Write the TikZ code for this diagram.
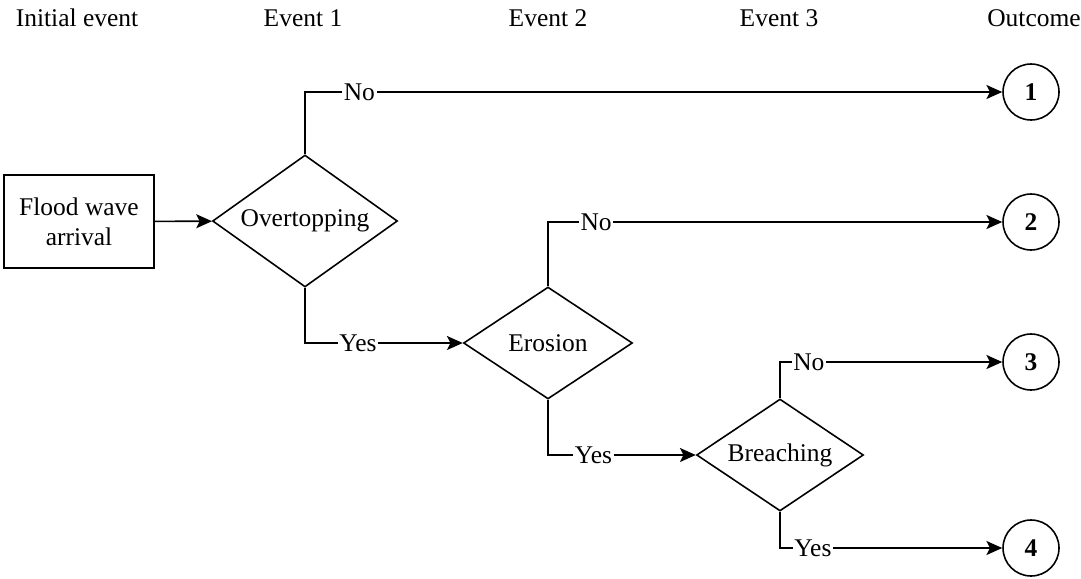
\documentclass[tikz,border=0pt]{standalone}
\usepackage{fontspec}
\setmainfont{Liberation Serif}
\usepackage{tikz}
\usetikzlibrary{shapes.geometric,arrows.meta}

\begin{document}
\begin{tikzpicture}[x=0.02cm,y=-0.02cm,
  font=\fontsize{14.5}{17}\selectfont,
  line width=0.9pt,
  every path/.style={-{Stealth[length=9pt,width=8pt,inset=2pt]}},
  box/.style={draw,minimum width=3cm,minimum height=1.86cm,align=center,inner sep=2pt},
  event/.style={draw,diamond,aspect=1.5,inner sep=0pt},
  outcome/.style={draw,circle,minimum size=1.12cm,inner sep=0pt,font=\fontsize{14.5}{17}\selectfont\bfseries},
  lab/.style={fill=white,inner sep=1pt}]

\useasboundingbox (0,0) rectangle (1081,578);

% Headers
\node (h0) at (77,18) {Initial event};
\node (h1) at (303,18) {Event 1};
\node (h2) at (548,18) {Event 2};
\node (h3) at (779,18) {Event 3};
\node (h4) at (1034,18) {Outcome};

% Initial event and events
\node[box] (flood) at (79,221.5) {Flood wave\\arrival};
\node[event,minimum width=3.7cm,minimum height=2.64cm] (over) at (305,221) {Overtopping};
\node[event,minimum width=3.38cm,minimum height=2.24cm] (eros) at (548,343) {Erosion};
\node[event,minimum width=3.34cm,minimum height=2.24cm] (breach) at (780,455) {Breaching};

% Outcomes
\node[outcome] (o1) at (1031,92) {1};
\node[outcome] (o2) at (1031,222) {2};
\node[outcome] (o3) at (1031,362) {3};
\node[outcome] (o4) at (1031,548) {4};

% Branches
\draw (flood) -- (over);
\draw (over.north) |- node[lab,pos=0.539] {No} (o1.west);
\draw (over.south) |- node[lab,pos=0.668] {Yes} (eros.west);
\draw (eros.north) |- node[lab,pos=0.553] {No} (o2.west);
\draw (eros.south) |- node[lab,pos=0.654] {Yes} (breach.west);
\draw (breach.north) |- node[lab,pos=0.565] {No} (o3.west);
\draw (breach.south) |- node[lab,pos=0.574] {Yes} (o4.west);

\end{tikzpicture}
\end{document}
